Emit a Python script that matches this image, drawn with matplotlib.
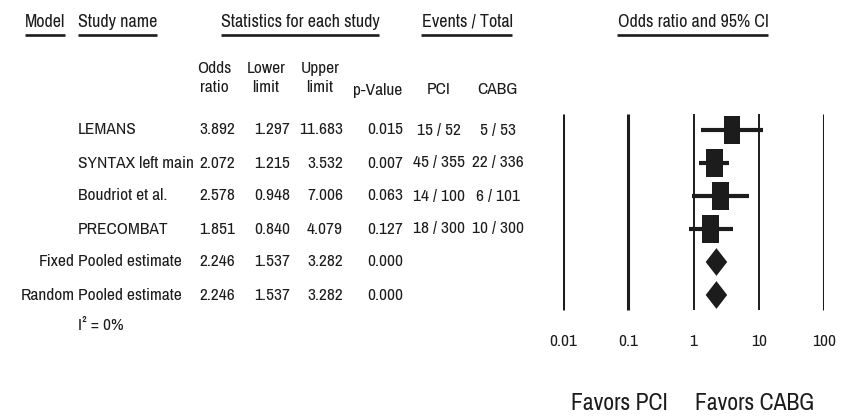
import numpy as np
import matplotlib
matplotlib.use("Agg")
import matplotlib.pyplot as plt
from matplotlib.patches import Rectangle, Polygon

plt.rcParams['font.family'] = ['Archivo Narrow', 'Liberation Sans']

# study level results
studies = ['LEMANS', 'SYNTAX left main', 'Boudriot et al.', 'PRECOMBAT']
odds = [3.892, 2.072, 2.578, 1.851]
lower = [1.297, 1.215, 0.948, 0.840]
upper = [11.683, 3.532, 7.006, 4.079]
pvals = [0.015, 0.007, 0.063, 0.127]
pci_events = [15, 45, 14, 18]
pci_total = [52, 355, 100, 300]
cabg_events = [5, 22, 6, 10]
cabg_total = [53, 336, 101, 300]

# pooled estimates
models = ['Fixed', 'Random']
pooled_or = [2.246, 2.246]
pooled_lo = [1.537, 1.537]
pooled_hi = [3.282, 3.282]
pooled_p = [0.000, 0.000]
i2 = 0

ticks = [0.01, 0.1, 1, 10, 100]
tick_labels = ['0.01', '0.1', '1', '10', '100']

ink = '#1c1c1c'
fs = 12.5

fig = plt.figure(figsize=(8.43, 4.16), dpi=100)
ax = fig.add_axes([0, 0, 1, 1])
ax.set_xlim(0, 843)
ax.set_ylim(416, 0)
ax.axis('off')

# table rows in pixel space
row_y0, row_dy = 130, 33
def ry(i):
    return row_y0 + row_dy * i

# headers
heads = [
    (25, 'left', 'Model'),
    (78, 'left', 'Study name'),
    (300, 'center', 'Statistics for each study'),
    (467, 'center', 'Events / Total'),
    (693, 'center', 'Odds ratio and 95% CI'),
]
head_txt = []
for x, ha, s in heads:
    t = ax.text(x, 22, s, ha=ha, va='center', fontsize=13, color=ink)
    head_txt.append(t)

sub = [(214, 'Odds\nratio'), (266, 'Lower\nlimit'), (320, 'Upper\nlimit')]
for x, s in sub:
    ax.text(x, 78, s, ha='center', va='center', fontsize=fs, color=ink,
            multialignment='center', linespacing=1.3)
ax.text(378, 90, 'p-Value', ha='center', va='center', fontsize=fs, color=ink)
ax.text(439, 90, 'PCI', ha='center', va='center', fontsize=fs, color=ink)
ax.text(497, 90, 'CABG', ha='center', va='center', fontsize=fs, color=ink)

def stat_cells(y, o, lo, hi, p):
    ax.text(235, y, f'{o:.3f}', ha='right', va='center', fontsize=fs, color=ink)
    ax.text(290, y, f'{lo:.3f}', ha='right', va='center', fontsize=fs, color=ink)
    ax.text(343, y, f'{hi:.3f}', ha='right', va='center', fontsize=fs, color=ink)
    ax.text(403, y, f'{p:.3f}', ha='right', va='center', fontsize=fs, color=ink)

for i, name in enumerate(studies):
    y = ry(i)
    ax.text(78, y, name, ha='left', va='center', fontsize=fs, color=ink)
    stat_cells(y, odds[i], lower[i], upper[i], pvals[i])
    ax.text(439, y, f'{pci_events[i]} / {pci_total[i]}', ha='center',
            va='center', fontsize=fs, color=ink)
    ax.text(498, y, f'{cabg_events[i]} / {cabg_total[i]}', ha='center',
            va='center', fontsize=fs, color=ink)

for j, m in enumerate(models):
    y = ry(len(studies) + j)
    ax.text(75, y, m, ha='right', va='center', fontsize=fs, color=ink)
    ax.text(78, y, 'Pooled estimate', ha='left', va='center', fontsize=fs, color=ink)
    stat_cells(y, pooled_or[j], pooled_lo[j], pooled_hi[j], pooled_p[j])

ax.text(78, ry(6) - 2, f'I² = {i2}%', ha='left', va='center', fontsize=fs, color=ink)

ax.text(668, 403, 'Favors PCI', ha='right', va='center', fontsize=17, color=ink)
ax.text(695, 403, 'Favors CABG', ha='left', va='center', fontsize=17, color=ink)

# forest panel: log odds ratio axis
top_px, bot_px = ry(-0.5), ry(5.5)
fx = fig.add_axes([563 / 843, (416 - bot_px) / 416, 261 / 843, (bot_px - top_px) / 416])
fx.set_xscale('log')
fx.set_xlim(0.01, 100)
fx.set_ylim(5.5, -0.5)
fx.patch.set_visible(False)
for sp in fx.spines.values():
    sp.set_visible(False)
fx.set_yticks([])
fx.set_xticks(ticks)
fx.set_xticklabels(tick_labels)
fx.xaxis.set_minor_locator(matplotlib.ticker.NullLocator())
fx.tick_params(axis='x', length=0, pad=16, labelsize=fs, labelcolor=ink)

for t in ticks:
    lw = 1.4 if t in (1, 10) else 2.2
    fx.vlines(t, -0.48, 5.45, color=ink, lw=lw)

rows = np.arange(len(studies))
fx.hlines(rows, lower, upper, color=ink, lw=3)
half = 0.13
for i in rows:
    x0 = odds[i] * 10 ** -half
    w = odds[i] * 10 ** half - x0
    fx.add_patch(Rectangle((x0, i - 0.41), w, 0.82, facecolor=ink, edgecolor='none'))

for j in range(len(models)):
    r = len(studies) + j
    pts = [(pooled_lo[j], r), (pooled_or[j], r - 0.42),
           (pooled_hi[j], r), (pooled_or[j], r + 0.42)]
    fx.add_patch(Polygon(pts, closed=True, facecolor=ink, edgecolor='none'))

# underline the column group headers
fig.canvas.draw()
inv = ax.transData.inverted()
for t in head_txt:
    bb = t.get_window_extent()
    (xa, _), (xb, _) = inv.transform([(bb.x0, bb.y0), (bb.x1, bb.y0)])
    ax.plot([xa, xb], [34.5, 34.5], color=ink, lw=1.9, solid_capstyle='butt')

fig.savefig('out.png', dpi=100)
